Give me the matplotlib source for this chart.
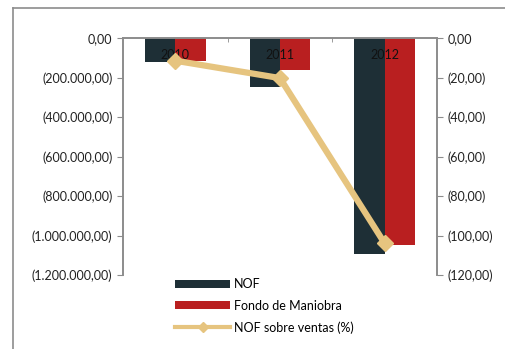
import matplotlib
matplotlib.use("Agg")
import matplotlib.pyplot as plt
from matplotlib.lines import Line2D
from matplotlib.ticker import FuncFormatter, FixedLocator
import numpy as np

years = ["2010", "2011", "2012"]
nof = [-123000, -246000, -1095000]
fondo = [-116000, -162000, -1050000]
nof_ventas = [-11.5, -20.3, -104.0]

C_NOF, C_FONDO, C_LINE, GREY = "#1e2f36", "#b91f20", "#e6c47f", "#8c8c8c"

plt.rcParams["font.family"] = ["Lato", "DejaVu Sans"]


def es_num(v, _pos=None):
    s = f"{abs(v):,.2f}".replace(",", "X").replace(".", ",").replace("X", ".")
    return s if v >= 0 else f"({s})"


fig = plt.figure(figsize=(5.06, 3.49), dpi=100, facecolor="white")
fig.add_artist(Line2D([13 / 506, 13 / 506], [0, 1 - 8 / 349], transform=fig.transFigure,
                      color=GREY, lw=1.2))
fig.add_artist(Line2D([13 / 506, 1], [1 - 8 / 349, 1 - 8 / 349], transform=fig.transFigure,
                      color=GREY, lw=1.2))

ax = fig.add_axes([123 / 506, 1 - 275 / 349, 314 / 506, 237 / 349])
x = np.arange(len(years))
w = 0.29
b1 = ax.bar(x - w / 2, nof, w, color=C_NOF, label="NOF", zorder=2)
b2 = ax.bar(x + w / 2, fondo, w, color=C_FONDO, label="Fondo de Maniobra", zorder=2)
ax.set_xlim(-0.5, 2.5)
ax.set_ylim(-1200000, 0)
ax.set_yticks(np.arange(-1200000, 1, 200000))
ax.yaxis.set_major_formatter(FuncFormatter(es_num))
ax.set_xticks([])
ax.xaxis.set_minor_locator(FixedLocator([0.5, 1.5]))
ax.tick_params(axis="x", which="minor", direction="in", top=True, bottom=False, length=3,
               color=GREY)
ax.tick_params(axis="y", labelsize=9, length=4, color=GREY, labelcolor="#222222")
for s in ["left", "right", "top"]:
    ax.spines[s].set_color(GREY)
    ax.spines[s].set_linewidth(1.2)
ax.spines["bottom"].set_visible(False)
for xi, yr in zip(x, years):
    ax.text(xi, -85000, yr, ha="center", va="center", fontsize=9, color="#111111", zorder=3)

ax2 = ax.twinx()
ln, = ax2.plot(x, nof_ventas, color=C_LINE, lw=4.5, marker="D", ms=8,
               label="NOF sobre ventas (%)", zorder=4)
ax2.set_ylim(-120, 0)
ax2.set_yticks(np.arange(-120, 1, 20))
ax2.yaxis.set_major_formatter(FuncFormatter(es_num))
ax2.tick_params(axis="y", labelsize=9, length=4, color=GREY, labelcolor="#222222")
for s in ["left", "right", "top"]:
    ax2.spines[s].set_color(GREY)
    ax2.spines[s].set_linewidth(1.2)
ax2.spines["bottom"].set_visible(False)

ln_handle = Line2D([], [], color=C_LINE, lw=3, marker="D", ms=5)
fig.legend([b1, b2, ln_handle], ["NOF", "Fondo de Maniobra", "NOF sobre ventas (%)"],
           loc="upper left", bbox_to_anchor=(169 / 506, 1 - 272 / 349), frameon=False,
           fontsize=9, handlelength=4.4, handleheight=0.55, labelspacing=0.75,
           handletextpad=0.3, borderpad=0)

fig.savefig("out.png", dpi=100, facecolor="white")
